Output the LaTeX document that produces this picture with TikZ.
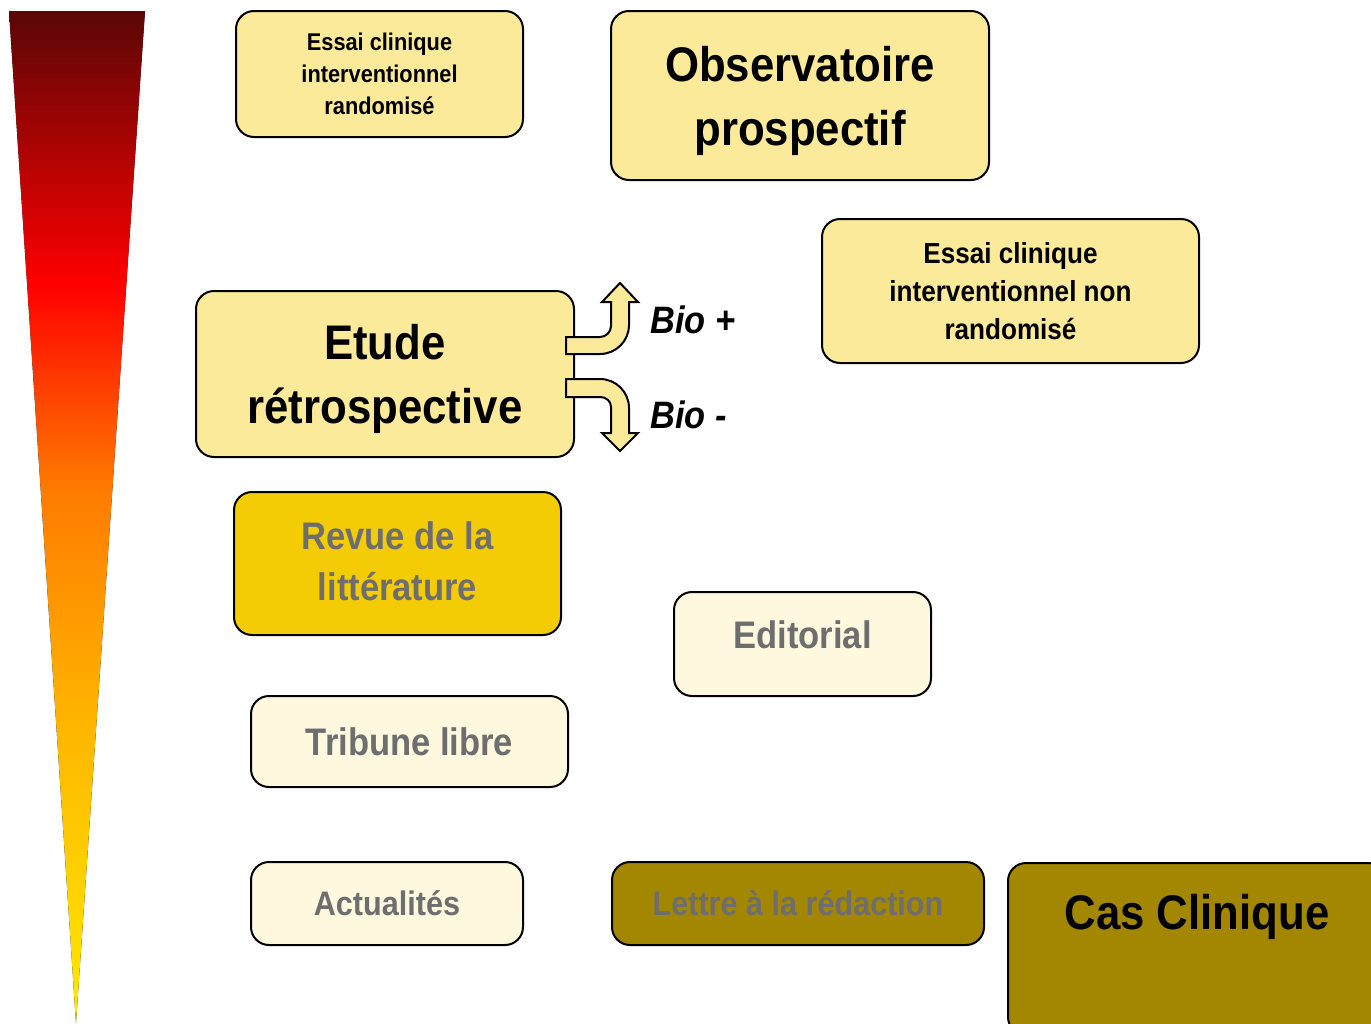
\documentclass[tikz,border=0pt]{standalone}
\usepackage{fontspec}
\setmainfont{Liberation Sans}[FakeStretch=0.9]
\usetikzlibrary{positioning}

\definecolor{paleyellow}{HTML}{FCEA9B}
\definecolor{goldyellow}{HTML}{F4CC06}
\definecolor{cream}{HTML}{FEF8DE}
\definecolor{olive}{HTML}{A38700}
\definecolor{greytext}{HTML}{6E6E6E}
\definecolor{graddark}{HTML}{5A0606}
\definecolor{gradred}{HTML}{FF0000}
\definecolor{gradorange}{HTML}{FF7A00}
\definecolor{gradamber}{HTML}{FFB500}
\definecolor{gradyellow}{HTML}{FFEA00}

\pgfdeclareverticalshading{levelgrad}{100bp}{color(0bp)=(gradyellow); color(25bp)=(gradyellow);
  color(40bp)=(gradamber); color(51.5bp)=(gradorange); color(61.5bp)=(gradred);
  color(75bp)=(graddark); color(100bp)=(graddark)}

\begin{document}
\begin{tikzpicture}[x=0.5pt, y=-0.5pt,
    box/.style={rectangle, draw, line width=1pt, rounded corners=9pt, align=center, inner sep=0pt},
    bigtext/.style={font=\bfseries\fontsize{24.3}{32}\selectfont},
    midtext/.style={font=\bfseries\fontsize{19.2}{25.5}\selectfont, text=greytext},
    blockarrow/.style={draw, line width=1pt, fill=paleyellow, line join=miter},
    biolabel/.style={anchor=west, inner sep=0pt, font=\bfseries\itshape\fontsize{19.1}{25}\selectfont}]

\useasboundingbox (0,0) rectangle (1371,1023);
\clip (0,0) rectangle (1371,1023);

% Level of evidence
\fill[shading=levelgrad] (9,11) -- (145,11) -- (76,1023) -- cycle;

% Nodes
\node [box, fill=paleyellow, minimum width=143.5pt, minimum height=63pt, text depth=-2pt,
       font=\bfseries\fontsize{12.1}{16}\selectfont] (ecr) at (379.5,74)
      {Essai clinique\\interventionnel\\randomisé};
\node [box, bigtext, fill=paleyellow, minimum width=189pt, minimum height=84.5pt, text depth=0pt] (obs) at (800,95.5)
      {Observatoire\\prospectif};
\node [box, fill=paleyellow, minimum width=188.5pt, minimum height=72pt, text depth=-4pt,
       font=\bfseries\fontsize{14.5}{19}\selectfont] (ecnr) at (1010.5,291)
      {Essai clinique\\interventionnel non\\randomisé};
\node [box, bigtext, fill=paleyellow, minimum width=189pt, minimum height=83pt, text depth=0pt] (etude) at (385,374)
      {Etude\\rétrospective};
\node [box, midtext, fill=goldyellow, minimum width=163.5pt, minimum height=71.5pt, text depth=2pt] (revue) at (397.5,563.5)
      {Revue de la\\littérature};
\node [box, midtext, fill=cream, minimum width=128.5pt, minimum height=52pt, text depth=9pt] (edito) at (802.5,644)
      {Editorial};
\node [box, midtext, fill=cream, minimum width=158.5pt, minimum height=45.5pt] (tribune) at (409.5,741.5)
      {Tribune libre};
\node [box, midtext, fill=cream, minimum width=136pt, minimum height=41.5pt,
       font=\bfseries\fontsize{17}{20}\selectfont] (actu) at (387,903.5)
      {Actualités};
\node [box, midtext, fill=olive, minimum width=186pt, minimum height=41.5pt,
       font=\bfseries\fontsize{17}{20}\selectfont] (lettre) at (798,903.5)
      {Lettre à la rédaction};
\node [box, fill=olive, minimum width=189pt, minimum height=86pt, anchor=north west] (cas) at (1007,862) {};
\node [bigtext, inner sep=0pt, below=16pt of cas.north] (castext) {Cas Clinique};

% Arrows
\draw [blockarrow] (566,354) -- (600,354) .. controls (616,354) and (629,341) .. (629,325)
      -- (629,302) -- (638,302) -- (620,283) -- (602,302) -- (611,302) -- (611,326)
      .. controls (611,332) and (606,337) .. (600,337) -- (566,337) -- cycle;
\draw [blockarrow] (566,379) -- (600,379) .. controls (616,379) and (629,392) .. (629,408)
      -- (629,433) -- (638,433) -- (620,451) -- (602,433) -- (611,433) -- (611,407)
      .. controls (611,401) and (606,397) .. (600,397) -- (566,397) -- cycle;
\node [biolabel] (bioplus) at (650,320) {Bio +};
\node [biolabel] (biominus) at (650,415) {Bio -};

\end{tikzpicture}
\end{document}
